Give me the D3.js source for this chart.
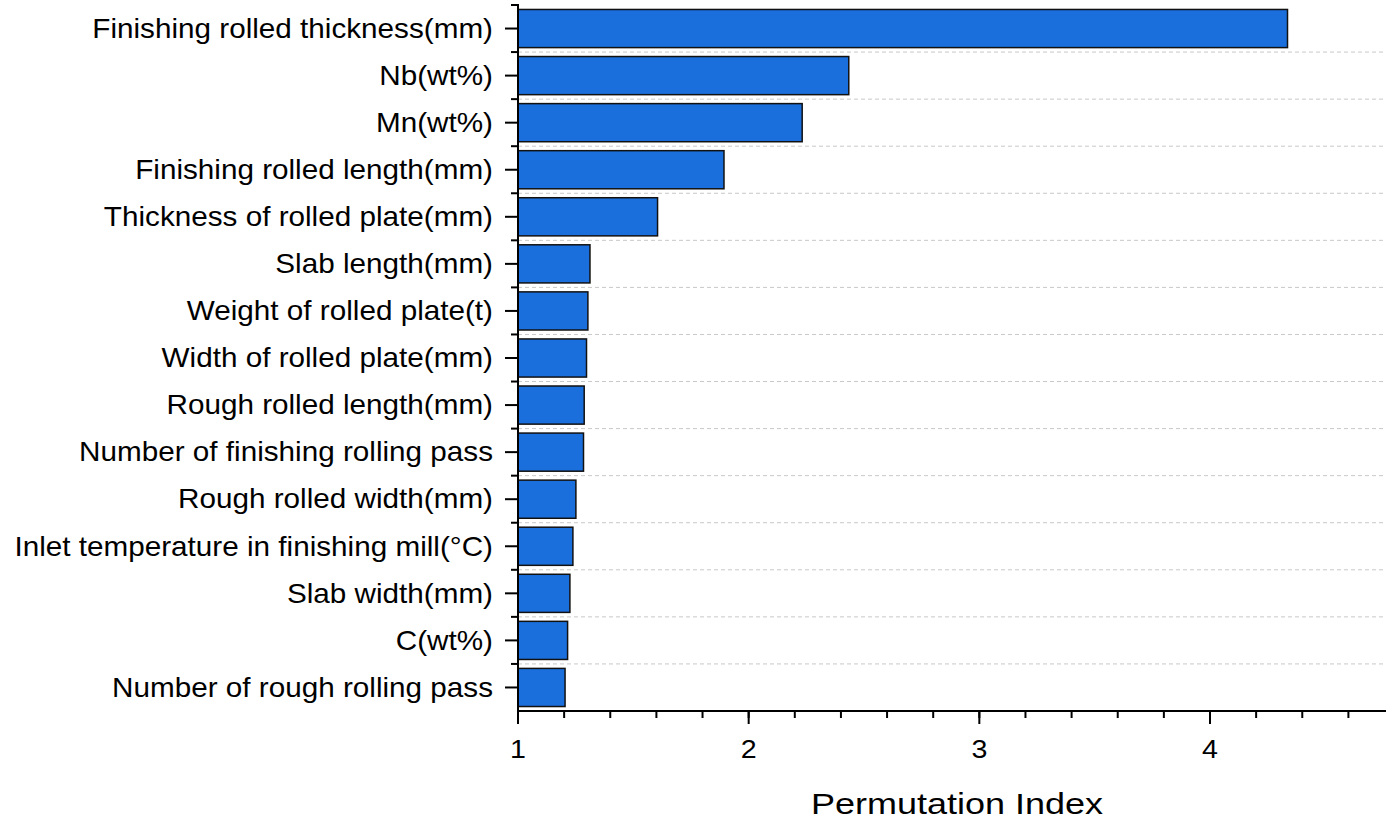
<!DOCTYPE html>
<html><head><meta charset="utf-8">
<script src="https://cdn.jsdelivr.net/npm/d3@7"></script>
<style>body{margin:0;background:#fff;} text{font-family:"Liberation Sans",Arial,sans-serif;}</style>
</head><body><svg id="c" width="1386" height="821"></svg>
<script>
const categories = ["Finishing rolled thickness(mm)","Nb(wt%)","Mn(wt%)","Finishing rolled length(mm)","Thickness of rolled plate(mm)","Slab length(mm)","Weight of rolled plate(t)","Width of rolled plate(mm)","Rough rolled length(mm)","Number of finishing rolling pass","Rough rolled width(mm)","Inlet temperature in finishing mill(°C)","Slab width(mm)","C(wt%)","Number of rough rolling pass"];
const values = [4.336,2.434,2.232,1.893,1.605,1.312,1.303,1.297,1.287,1.284,1.251,1.238,1.225,1.215,1.204];
const xTicks = [1,2,3,4];
const xTitle = "Permutation Index";

const SX = 1.06; // slight horizontal stretch of the reference text
const svg = d3.select("#c");
const L=518, R=1383, T=5, B=711;
const x = d3.scaleLinear().domain([1,4.75]).range([L,R]);
const y = d3.scaleBand().domain(categories).range([T,B]).paddingInner(0.19).paddingOuter(0.095);
const step = (B-T)/categories.length;

// grid lines at category boundaries
const bounds = d3.range(1,categories.length).map(i=>T+i*step);
svg.append("g").selectAll("line").data(bounds).join("line")
  .attr("x1",L).attr("x2",1386).attr("y1",d=>d).attr("y2",d=>d)
  .attr("stroke","#c8c8c8").attr("stroke-width",1).attr("stroke-dasharray","4,3");

// bars
svg.append("g").selectAll("rect").data(categories).join("rect")
  .attr("x",x(1)).attr("y",d=>y(d))
  .attr("width",(d,i)=>x(values[i])-x(1)).attr("height",y.bandwidth())
  .attr("fill","#1b6fdd").attr("stroke","#111").attr("stroke-width",1.5);

// x axis
const xMinor = d3.range(1,4.75,0.2);
const gx = svg.append("g").attr("transform",`translate(0,${B})`);
gx.append("line").attr("x1",L-1).attr("x2",1386).attr("stroke","#000").attr("stroke-width",2);
gx.selectAll(".mn").data(xMinor).join("line").attr("x1",d=>x(d)).attr("x2",d=>x(d)).attr("y1",0).attr("y2",7).attr("stroke","#000").attr("stroke-width",2);
gx.selectAll(".mj").data(xTicks).join("line").attr("x1",d=>x(d)).attr("x2",d=>x(d)).attr("y1",0).attr("y2",13).attr("stroke","#000").attr("stroke-width",2);
gx.selectAll("text").data(xTicks).join("text")
  .attr("transform",d=>`translate(${x(d)},47) scale(1.1,1)`)
  .attr("text-anchor","middle").attr("font-size",26).attr("fill","#000").text(d=>d);
svg.append("text").attr("transform",`translate(957,814) scale(1.2,1)`).attr("text-anchor","middle").attr("font-size",30).attr("fill","#000").text(xTitle);

// y axis
const gy = svg.append("g");
gy.append("line").attr("x1",L).attr("x2",L).attr("y1",T-1).attr("y2",B).attr("stroke","#000").attr("stroke-width",2);
gy.selectAll(".mn").data([T,...bounds]).join("line").attr("x1",L-7).attr("x2",L).attr("y1",d=>d).attr("y2",d=>d).attr("stroke","#000").attr("stroke-width",2);
gy.selectAll(".mj").data(categories).join("line").attr("x1",L-13).attr("x2",L).attr("y1",d=>y(d)+y.bandwidth()/2).attr("y2",d=>y(d)+y.bandwidth()/2).attr("stroke","#000").attr("stroke-width",2);
gy.selectAll("text").data(categories).join("text")
  .attr("transform",d=>`translate(${L-25},${y(d)+y.bandwidth()/2}) scale(${SX},1)`)
  .attr("dy","0.33em").attr("text-anchor","end").attr("font-size",28).attr("fill","#000").text(d=>d);
</script></body></html>
